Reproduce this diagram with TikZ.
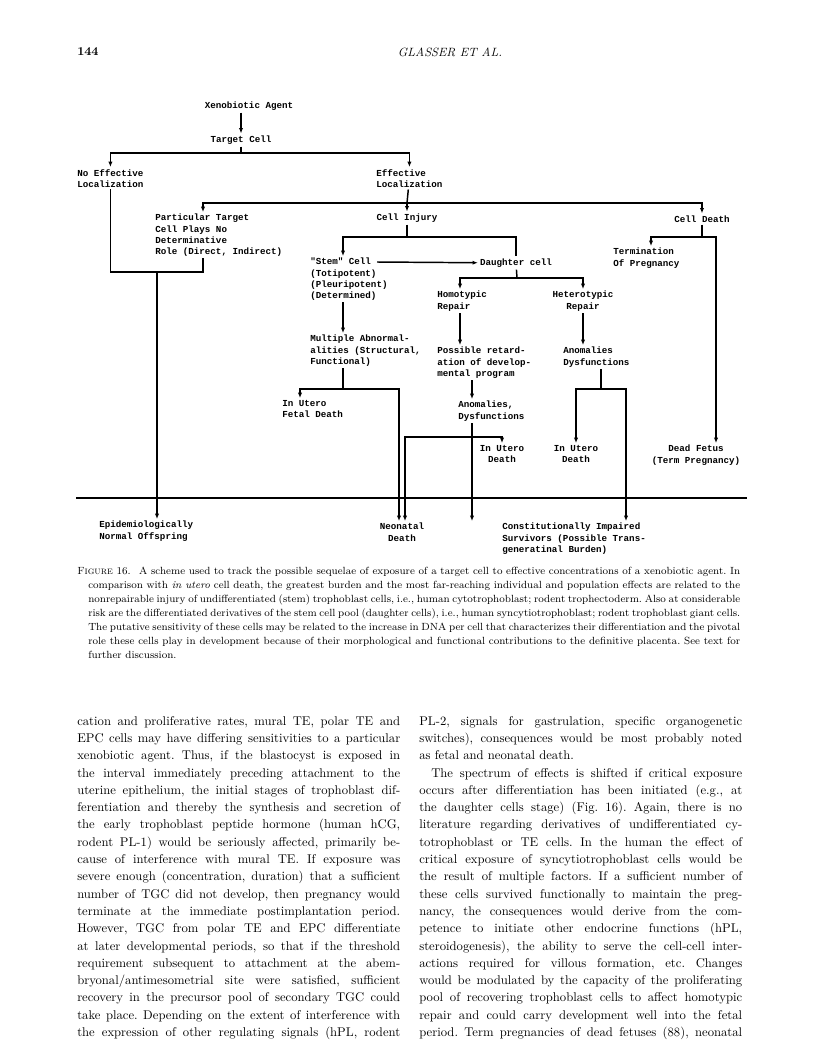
\documentclass[tikz,border=0pt]{standalone}
\usepackage{fontspec}
\newfontfamily\typefont{Liberation Mono}
\usetikzlibrary{arrows.meta}

\newlength{\colw}
\setlength{\colw}{242.25pt}
\newcommand{\bline}[1]{\makebox[\colw][s]{#1}}
\newcommand{\capline}[1]{\hspace*{8.25pt}\makebox[489pt][s]{#1}}

\begin{document}
\frenchspacing
\begin{tikzpicture}[
    x=0.75pt, y=-0.75pt,
    lbl/.style={font=\typefont\bfseries\fontsize{6.9}{8.3}\selectfont,
                inner sep=1.5pt, align=left},
    lblc/.style={lbl, align=center},
    arr/.style={-{Latex[length=4pt, width=3.2pt]}, line width=1.1pt},
    ln/.style={line width=1.1pt},
    body/.style={anchor=north west, inner sep=0pt, align=left,
                 font=\fontsize{9.5}{12.97}\selectfont},
  ]
    \useasboundingbox (0,0) rectangle (816,1043);
    \fill[white] (0,0) rectangle (816,1043);

    % running head
    \node[anchor=west, inner sep=0pt, font=\bfseries\fontsize{9}{11}\selectfont]
        (pagenum) at (77,52) {144};
    \node[inner sep=0pt, font=\itshape\fontsize{9}{11}\selectfont]
        (runhead) at (450,52) {GLASSER ET AL.};

    % scheme
    \node[lbl] (xeno)   at (249,106) {Xenobiotic Agent};
    \node[lbl] (target) at (241,140) {Target Cell};
    \node[lbl, anchor=north west] (noeff)  at (75,167)  {No Effective\\Localization};
    \node[lbl, anchor=north west] (effloc) at (374,167) {Effective\\Localization};
    \node[lbl, anchor=north west] (partic) at (153,212)
        {Particular Target\\Cell Plays No\\Determinative\\Role (Direct, Indirect)};
    \node[lbl] (injury)    at (407,218) {Cell Injury};
    \node[lbl] (celldeath) at (702,219) {Cell Death};
    \node[lbl, anchor=north west] (stem) at (308,256)
        {"Stem" Cell\\(Totipotent)\\(Pleuripotent)\\(Determined)};
    \node[lbl] (daughter) at (516,263) {Daughter cell};
    \node[lbl, anchor=north west] (term) at (611,246) {Termination\\Of Pregnancy};
    \node[lbl, anchor=north west] (multi) at (308,333)
        {Multiple Abnormal-\\alities (Structural,\\Functional)};
    \node[lbl, anchor=north west] (homo) at (435,289) {Homotypic\\Repair};
    \node[lblc, anchor=north] (hetero) at (583,289) {Heterotypic\\Repair};
    \node[lbl, anchor=north west] (possible) at (435,345)
        {Possible retard-\\ation of develop-\\mental program};
    \node[lbl, anchor=north west] (anomR) at (561,345) {Anomalies\\Dysfunctions};
    \node[lbl, anchor=north west] (anomM) at (456,399) {Anomalies,\\Dysfunctions};
    \node[lbl, anchor=north west] (uteroFetal) at (280,398) {In Utero\\Fetal Death};
    \node[lblc, anchor=north] (uteroM) at (502,443) {In Utero\\Death};
    \node[lblc, anchor=north] (uteroR) at (576,443) {In Utero\\Death};
    \node[lblc, anchor=north] (deadfetus) at (696,443) {Dead Fetus\\(Term Pregnancy)};
    \node[lbl, anchor=north west] (epid) at (97,519)
        {Epidemiologically\\Normal Offspring};
    \node[lblc, anchor=north] (neonatal) at (402,521) {Neonatal\\Death};
    \node[lbl, anchor=north west] (consti) at (500,521)
        {Constitutionally Impaired\\Survivors (Possible Trans-\\generatinal Burden)};

    \coordinate (j1) at (241,153);
    \coordinate (j2) at (407,203);
    \coordinate (j3) at (157,272);
    \coordinate (j4) at (407,237);
    \coordinate (stemR) at (377,262);
    \coordinate (j5) at (343,389);
    \coordinate (j6) at (517,278);
    \coordinate (j7) at (472,437);
    \coordinate (j8) at (601,389);
    \coordinate (j9) at (702,237);

    % agent -> localization
    \draw[arr] (xeno.south -| target.north) -- (target);
    \draw[ln]  (target) -- (j1);
    \draw[arr] (j1) -| (noeff);
    \draw[arr] (j1) -| (effloc);

    % localization -> fates
    \draw[ln]  (effloc) -- (j2);
    \draw[arr] (j2) -| ([xshift=37.5pt]partic.north west);
    \draw[arr] (j2) -- (injury);
    \draw[arr] (j2) -| (celldeath);
    \draw[ln]  (noeff) |- (j3) -| ([xshift=37.5pt]partic.south west);
    \draw[arr] (j3) -- (j3 |- epid.north);

    % cell injury
    \draw[ln]  (injury) -- (j4);
    \draw[arr] (j4) -| ([xshift=26.25pt]stem.north west);
    \draw[ln]  (j4) -| (daughter);
    \draw[arr] (stemR) -- (daughter);
    \draw[arr] ([xshift=26.25pt]stem.south west) -- ([xshift=26.25pt]multi.north west);
    \draw[ln]  ([xshift=26.25pt]multi.south west) -- (j5);
    \draw[arr] (j5) -| ([xshift=15pt]uteroFetal.north west);
    \draw[arr] (j5) -| ([xshift=-2.25pt]neonatal.north);

    % daughter cell
    \draw[ln]  (daughter) -- (j6);
    \draw[arr] (j6) -| ([xshift=18.75pt]homo.north west);
    \draw[arr] (j6) -| (hetero);
    \draw[arr] ([xshift=18.75pt]homo.south west) -- ([xshift=18.75pt]possible.north west);
    \draw[arr] (hetero) -- (hetero |- anomR.north);
    \draw[arr] ([xshift=27.75pt]possible.south west) -- ([xshift=12pt]anomM.north west);
    \draw[arr] ([xshift=12pt]anomM.south west) -- ([xshift=12pt]anomM.south west |- consti.north);
    \draw[arr] (j7) -| ([xshift=2.25pt]neonatal.north);
    \draw[arr] (j7) -| (uteroM);
    \draw[ln]  ([xshift=30pt]anomR.south west) -- (j8);
    \draw[arr] (j8) -| (uteroR);
    \draw[arr] (j8) -| ([xshift=94.5pt]consti.north west);

    % cell death
    \draw[ln]  (celldeath) -- (j9);
    \draw[arr] (j9) -| ([xshift=30pt]term.north west);
    \draw[arr] (j9) -| ([xshift=15pt]deadfetus.north);

    % birth line
    \draw[line width=0.9pt] (76,498) -- (747,498);

    % caption
    \node[anchor=north west, inner sep=0pt, align=left,
          font=\fontsize{7.8}{10.5}\selectfont] (caption) at (77,567)
      {\makebox[497.25pt][s]{\textsc{Figure} 16.\hspace{0.8em}A scheme used to track the possible sequelae of exposure of a target cell to effective concentrations of a xenobiotic agent. In}\\
       \capline{comparison with \textit{in utero} cell death, the greatest burden and the most far-reaching individual and population effects are related to the}\\
       \capline{nonrepairable injury of undifferentiated (stem) trophoblast cells, i.e., human cytotrophoblast; rodent trophectoderm. Also at considerable}\\
       \capline{risk are the differentiated derivatives of the stem cell pool (daughter cells), i.e., human syncytiotrophoblast; rodent trophoblast giant cells.}\\
       \capline{The putative sensitivity of these cells may be related to the increase in DNA per cell that characterizes their differentiation and the pivotal}\\
       \capline{role these cells play in development because of their morphological and functional contributions to the definitive placenta. See text for}\\
       \hspace*{8.25pt}further discussion.};

    % text columns
    \node[body] (colleft) at (77,716)
      {\bline{cation and proliferative rates, mural TE, polar TE and}\\
       \bline{EPC cells may have differing sensitivities to a particular}\\
       \bline{xenobiotic agent. Thus, if the blastocyst is exposed in}\\
       \bline{the interval immediately preceding attachment to the}\\
       \bline{uterine epithelium, the initial stages of trophoblast dif-}\\
       \bline{ferentiation and thereby the synthesis and secretion of}\\
       \bline{the early trophoblast peptide hormone (human hCG,}\\
       \bline{rodent PL-1) would be seriously affected, primarily be-}\\
       \bline{cause of interference with mural TE. If exposure was}\\
       \bline{severe enough (concentration, duration) that a sufficient}\\
       \bline{number of TGC did not develop, then pregnancy would}\\
       \bline{terminate at the immediate postimplantation period.}\\
       \bline{However, TGC from polar TE and EPC differentiate}\\
       \bline{at later developmental periods, so that if the threshold}\\
       \bline{requirement subsequent to attachment at the abem-}\\
       \bline{bryonal/antimesometrial site were satisfied, sufficient}\\
       \bline{recovery in the precursor pool of secondary TGC could}\\
       \bline{take place. Depending on the extent of interference with}\\
       \bline{the expression of other regulating signals (hPL, rodent}};
    \node[body] (colright) at (419,716)
      {\bline{PL-2, signals for gastrulation, specific organogenetic}\\
       \bline{switches), consequences would be most probably noted}\\
       as fetal and neonatal death.\\
       \bline{\hspace*{9pt}The spectrum of effects is shifted if critical exposure}\\
       \bline{occurs after differentiation has been initiated (e.g., at}\\
       \bline{the daughter cells stage) (Fig. 16). Again, there is no}\\
       \bline{literature regarding derivatives of undifferentiated cy-}\\
       \bline{totrophoblast or TE cells. In the human the effect of}\\
       \bline{critical exposure of syncytiotrophoblast cells would be}\\
       \bline{the result of multiple factors. If a sufficient number of}\\
       \bline{these cells survived functionally to maintain the preg-}\\
       \bline{nancy, the consequences would derive from the com-}\\
       \bline{petence to initiate other endocrine functions (hPL,}\\
       \bline{steroidogenesis), the ability to serve the cell-cell inter-}\\
       \bline{actions required for villous formation, etc. Changes}\\
       \bline{would be modulated by the capacity of the proliferating}\\
       \bline{pool of recovering trophoblast cells to affect homotypic}\\
       \bline{repair and could carry development well into the fetal}\\
       \bline{period. Term pregnancies of dead fetuses (88), neonatal}};
\end{tikzpicture}
\end{document}
